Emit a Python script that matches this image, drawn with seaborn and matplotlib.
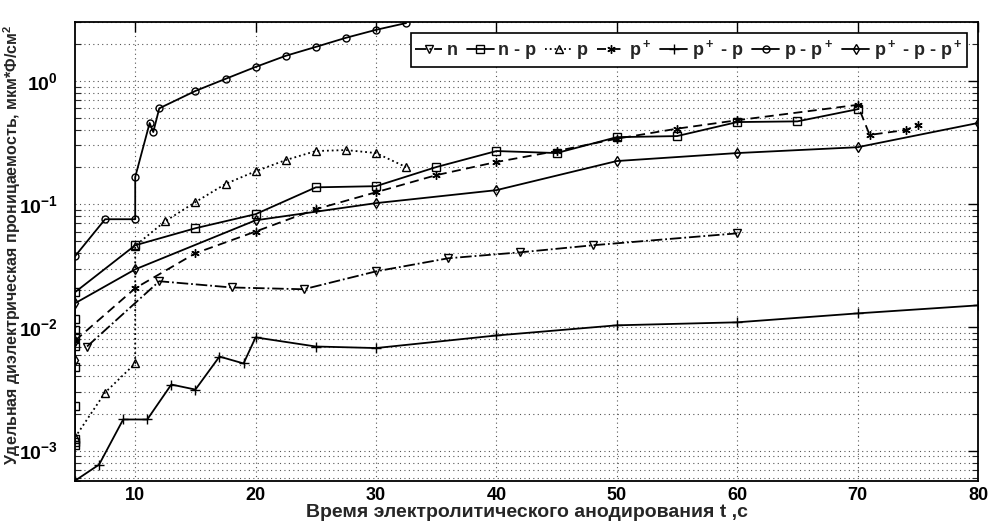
import matplotlib
matplotlib.use("Agg")
import matplotlib.pyplot as plt
import matplotlib.ticker as mticker
import seaborn as sns
import pandas as pd
import numpy as np

# ---------------- data ----------------
n_t = [6, 12, 18, 24, 30, 36, 42, 48, 60]
n_c = [0.0070, 0.0237, 0.0211, 0.0204, 0.0285, 0.0364, 0.0407, 0.0464, 0.058]

np_t = [5, 5, 5, 5, 5, 5, 5, 5, 5, 5, 10, 15, 20, 25, 30, 35, 40, 45, 50, 55, 60, 65, 70]
np_c = [0.00112, 0.00118, 0.00125, 0.00232, 0.00473, 0.0071, 0.0083, 0.0095, 0.0118, 0.0193,
        0.0464, 0.0638, 0.083, 0.137, 0.140, 0.200, 0.27, 0.26, 0.35, 0.357, 0.464, 0.47, 0.59]

p_t = [5, 7.5, 10, 10, 12.5, 15, 17.5, 20, 22.5, 25, 27.5, 30, 32.5]
p_c = [0.00128, 0.00296, 0.0051, 0.046, 0.0728, 0.104, 0.146, 0.185, 0.228, 0.27, 0.275, 0.26, 0.20]

pp_t = [5, 10, 15, 20, 25, 30, 35, 40, 45, 50, 55, 60, 70, 71, 74, 75]
pp_c = [0.0078, 0.0208, 0.040, 0.060, 0.091, 0.125, 0.172, 0.22, 0.27, 0.34, 0.41, 0.48, 0.64, 0.365, 0.40, 0.44]

ppp_t = [5, 7, 9, 11, 13, 15, 17, 19, 20, 25, 30, 40, 50, 60, 70, 80]
ppp_c = [0.00057, 0.00077, 0.00179, 0.00179, 0.00344, 0.00313, 0.0058, 0.0051, 0.0083,
         0.0070, 0.0068, 0.0086, 0.0104, 0.011, 0.013, 0.0151]

ppl_t = [5, 7.5, 10, 10, 11.2, 11.5, 12, 15, 17.5, 20, 22.5, 25, 27.5, 30, 32.5]
ppl_c = [0.0378, 0.0755, 0.0755, 0.166, 0.456, 0.385, 0.60, 0.83, 1.04, 1.30, 1.60, 1.89, 2.24, 2.6, 2.95]

pppp_t = [5, 5, 5, 10, 20, 30, 40, 50, 60, 70, 80]
pppp_c = [0.0054, 0.0078, 0.0157, 0.0296, 0.074, 0.102, 0.13, 0.224, 0.26, 0.29, 0.456]

labels = ["n", "n - p", "p", "p$^+$", "p$^+$ - p", "p - p$^+$", "p$^+$ - p - p$^+$"]
xticks = [10, 20, 30, 40, 50, 60, 70, 80]
xlabel = "Время электролитического анодирования t ,с"
ylabel = "Удельная диэлектрическая проницаемость, мкм*Ф/см$^2$"

# ---------------- style ----------------
sns.set_theme(style="white")
fam = "Liberation Sans"
plt.rcParams["font.family"] = [fam, "DejaVu Sans"]
plt.rcParams["font.weight"] = "bold"
plt.rcParams["mathtext.fontset"] = "custom"
plt.rcParams["mathtext.rm"] = fam + ":bold"
plt.rcParams["mathtext.it"] = fam + ":bold"
plt.rcParams["mathtext.bf"] = fam + ":bold"
plt.rcParams["mathtext.default"] = "rm"

fig = plt.figure(figsize=(9.91, 5.24), dpi=100)
ax = fig.add_axes([75 / 991, 1 - 481 / 524, (978 - 75) / 991, (481 - 22) / 524])

series = [
    (n_t, n_c, dict(linestyle="-.", marker="v", markersize=6)),
    (np_t, np_c, dict(linestyle="-", marker="s", markersize=6)),
    (p_t, p_c, dict(linestyle=":", marker="^", markersize=6)),
    (pp_t, pp_c, dict(linestyle=(0, (5, 3)), marker=(6, 2, 0), markersize=6)),
    (ppp_t, ppp_c, dict(linestyle="-", marker="+", markersize=7)),
    (ppl_t, ppl_c, dict(linestyle="-", marker="o", markersize=5)),
    (pppp_t, pppp_c, dict(linestyle="-", marker="d", markersize=5)),
]

for (t, c, st), lab in zip(series, labels):
    df = pd.DataFrame({"t": t, "C": c})
    sns.lineplot(data=df, x="t", y="C", ax=ax, estimator=None, sort=False,
                 color="black", linewidth=1.3, markerfacecolor="none",
                 markeredgecolor="black", markeredgewidth=1.0, label=lab, **st)

ax.set_yscale("log")
ax.set_xlim(5, 80)
ax.set_ylim(5.67e-4, 3.01)
ax.set_xticks(xticks)
ax.set_xticklabels([str(v) for v in xticks])
ax.yaxis.set_major_locator(mticker.FixedLocator([1e-3, 1e-2, 1e-1, 1e0]))
ax.set_yticklabels(["10$^{-3}$", "10$^{-2}$", "10$^{-1}$", "10$^{0}$"])
ax.yaxis.set_minor_locator(mticker.LogLocator(base=10, subs=np.arange(2, 10), numticks=20))
ax.yaxis.set_minor_formatter(mticker.NullFormatter())

ax.grid(True, which="major", axis="both", linestyle=(0, (1, 3)), color="#555555", linewidth=0.8)
ax.grid(True, which="minor", axis="y", linestyle=(0, (1, 3)), color="#555555", linewidth=0.8)

ax.tick_params(axis="x", which="major", direction="in", length=7, width=1,
               top=True, labelsize=13, colors="black", pad=4)
ax.tick_params(axis="y", which="major", direction="in", length=7, width=1,
               right=True, labelsize=14, colors="black", pad=12)
ax.tick_params(axis="y", which="minor", direction="in", length=4, width=0.8,
               left=True, right=True)
for s in ax.spines.values():
    s.set_color("black")
    s.set_linewidth(1.3)

ax.set_xlabel(xlabel, fontsize=14, fontweight="bold", labelpad=0)
ax.set_ylabel(ylabel, fontsize=11.5, fontweight="bold")
ax.yaxis.set_label_coords(-0.058, 0.515)

leg = ax.legend(loc="upper right", bbox_to_anchor=(0.988, 0.975), ncol=7,
                fontsize=13, frameon=True, fancybox=False, handlelength=1.5,
                handletextpad=0.25, columnspacing=0.5, borderpad=0.25,
                borderaxespad=0)
leg.get_frame().set_edgecolor("black")
leg.get_frame().set_linewidth(1.2)
leg.get_frame().set_alpha(1)

fig.savefig("out.png", dpi=100)
